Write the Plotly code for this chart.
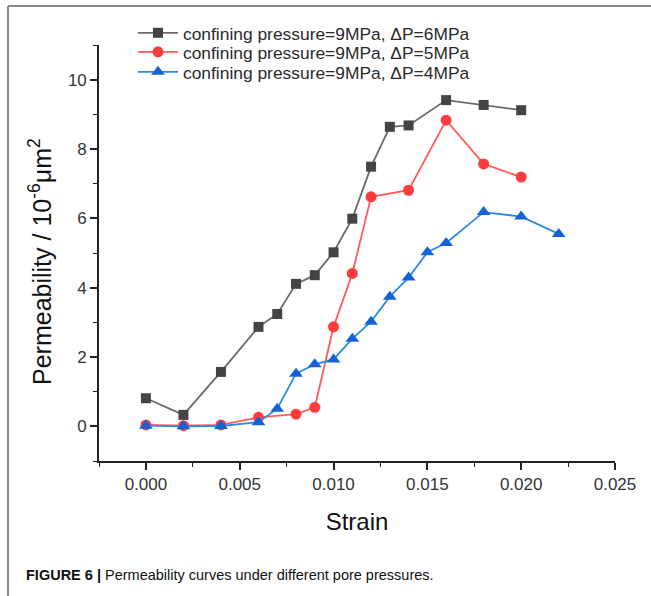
import plotly.graph_objects as go

# Data
strain_6 = [0.000, 0.002, 0.004, 0.006, 0.007, 0.008, 0.009, 0.010, 0.011, 0.012, 0.013, 0.014, 0.016, 0.018, 0.020]
perm_6 = [0.81, 0.33, 1.57, 2.87, 3.24, 4.11, 4.36, 5.02, 5.99, 7.49, 8.64, 8.68, 9.41, 9.27, 9.12]

strain_5 = [0.000, 0.002, 0.004, 0.006, 0.008, 0.009, 0.010, 0.011, 0.012, 0.014, 0.016, 0.018, 0.020]
perm_5 = [0.04, 0.02, 0.04, 0.26, 0.35, 0.55, 2.87, 4.41, 6.62, 6.81, 8.83, 7.57, 7.19]

strain_4 = [0.000, 0.002, 0.004, 0.006, 0.007, 0.008, 0.009, 0.010, 0.011, 0.012, 0.013, 0.014, 0.015, 0.016, 0.018, 0.020, 0.022]
perm_4 = [0.02, 0.0, 0.01, 0.12, 0.51, 1.52, 1.79, 1.93, 2.53, 3.02, 3.74, 4.29, 5.02, 5.29, 6.18, 6.05, 5.55]

names = ["confining pressure=9MPa, ΔP=6MPa",
         "confining pressure=9MPa, ΔP=5MPa",
         "confining pressure=9MPa, ΔP=4MPa"]

W, H = 651, 596
ML, MR, MT, MB = 99, 36, 45, 135
PW, PH = W - ML - MR, H - MT - MB


def px(xp):
    return (xp - ML) / PW


def py(yp):
    return (H - MB - yp) / PH


fig = go.Figure()
fig.add_trace(go.Scatter(x=strain_6, y=perm_6, mode="lines+markers", name=names[0], legend="legend",
                         line=dict(color="#6a6a6a", width=1.8),
                         marker=dict(symbol="square", size=10, color="#444444")))
fig.add_trace(go.Scatter(x=strain_5, y=perm_5, mode="lines+markers", name=names[1], legend="legend2",
                         line=dict(color="#ff5a5a", width=1.8),
                         marker=dict(symbol="circle", size=11, color="#ff3b3b")))
fig.add_trace(go.Scatter(x=strain_4, y=perm_4, mode="lines+markers", name=names[2], legend="legend3",
                         line=dict(color="#2b8be6", width=1.8),
                         marker=dict(symbol="triangle-up", size=12, color="#1463d6")))

axis_common = dict(showline=True, linecolor="#222222", linewidth=1.6, ticks="outside",
                   ticklen=7, tickwidth=1.6, tickcolor="#222222", showgrid=False, zeroline=False,
                   tickfont=dict(family="Liberation Sans, Arial", size=17, color="#333333"),
                   mirror=False)

fig.update_xaxes(range=[-0.0025, 0.025], dtick=0.005, tick0=0, tickformat=".3f",
                 minor=dict(dtick=0.0025, tick0=0, ticks="outside", ticklen=4, tickwidth=1.4,
                            tickcolor="#222222"),
                 title=dict(text="Strain", font=dict(family="Liberation Sans, Arial", size=24, color="#111111"),
                            standoff=20),
                 **axis_common)
fig.update_yaxes(range=[-1, 11], dtick=2, tick0=0,
                 minor=dict(dtick=1, tick0=0, ticks="outside", ticklen=4, tickwidth=1.4,
                            tickcolor="#222222"),
                 **axis_common)

shapes = [
    dict(type="line", xref="paper", yref="paper", x0=px(8), x1=px(651), y0=py(6), y1=py(6),
         line=dict(color="#8a8a8a", width=2)),
    dict(type="line", xref="paper", yref="paper", x0=px(8), x1=px(8), y0=py(6), y1=py(596),
         line=dict(color="#8a8a8a", width=2)),
]

annotations = [
    dict(xref="paper", yref="paper", x=px(40), y=py(262), xanchor="center", yanchor="middle",
         showarrow=False, textangle=-90,
         text="Permeability / 10<sup>-6</sup>μm<sup>2</sup>",
         font=dict(family="Liberation Sans, Arial", size=25, color="#111111")),
    dict(xref="paper", yref="paper", x=px(24), y=py(575), xanchor="left", yanchor="middle",
         showarrow=False, align="left",
         text="<b>FIGURE 6 |</b> Permeability curves under different pore pressures.",
         font=dict(family="Liberation Sans, Arial", size=14.5, color="#111111")),
]

leg_font = dict(family="Liberation Sans, Arial", size=17.4, color="#2a2a2a")
leg_common = dict(xanchor="left", yanchor="middle", bgcolor="rgba(0,0,0,0)", itemwidth=40,
                  font=leg_font)

fig.update_layout(
    width=W, height=H,
    margin=dict(l=ML, r=MR, t=MT, b=MB),
    paper_bgcolor="white", plot_bgcolor="white",
    showlegend=True,
    legend=dict(x=px(133), y=py(33), **leg_common),
    legend2=dict(x=px(133), y=py(52), **leg_common),
    legend3=dict(x=px(133), y=py(72), **leg_common),
    shapes=shapes, annotations=annotations,
)

fig.write_html("out.html", config={"displayModeBar": False},
               post_script="document.body.style.margin='0';")
